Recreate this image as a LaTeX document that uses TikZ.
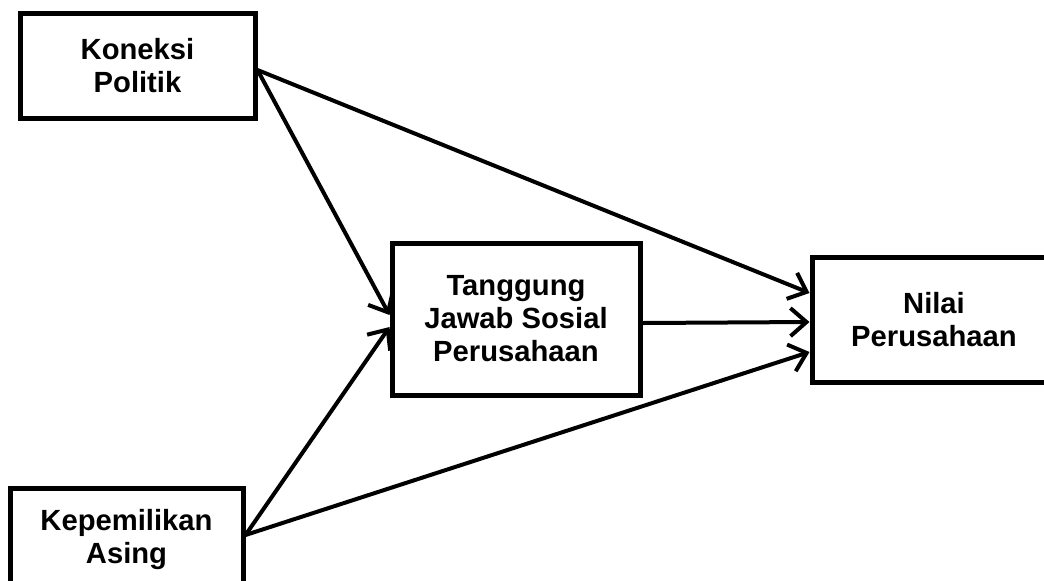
\documentclass[tikz,border=0pt]{standalone}
\usepackage{fontspec}
\setmainfont{Liberation Sans}
\usetikzlibrary{arrows.meta}

\begin{document}
\begin{tikzpicture}[x=0.5pt, y=-0.5pt, >={Straight Barb[length=8pt,width=14pt]}]
 \tikzset{var/.style={draw, line width=2.5pt, align=center, inner sep=0pt,
   font=\bfseries\fontsize{14.6}{16.5}\selectfont}}
 \clip (0,0) rectangle (1044,580);

 % variables
 \node[var, minimum width=117.5pt, minimum height=52.5pt] (kp) at (137.5,65.5) {Koneksi\\Politik};
 \node[var, minimum width=116.5pt, minimum height=52pt] (ka) at (126.5,540) {Kepemilikan\\Asing};
 \node[var, minimum width=124pt, minimum height=76pt] (tj) at (516,319) {Tanggung\\Jawab Sosial\\Perusahaan};
 \node[var, minimum width=122pt, minimum height=62.5pt] (np) at (934,320) {Nilai\\Perusahaan};

 % paths
 \foreach \source/\sy/\dest/\dy in {kp/-2.25/tj/2, kp/-2.25/np/13.5, ka/2.5/tj/-4,
                                    ka/2.5/np/-16, tj/-2/np/-1}
   \draw[->, line width=2pt] ([yshift=\sy pt]\source.east) -- ([yshift=\dy pt]\dest.west);
\end{tikzpicture}
\end{document}
